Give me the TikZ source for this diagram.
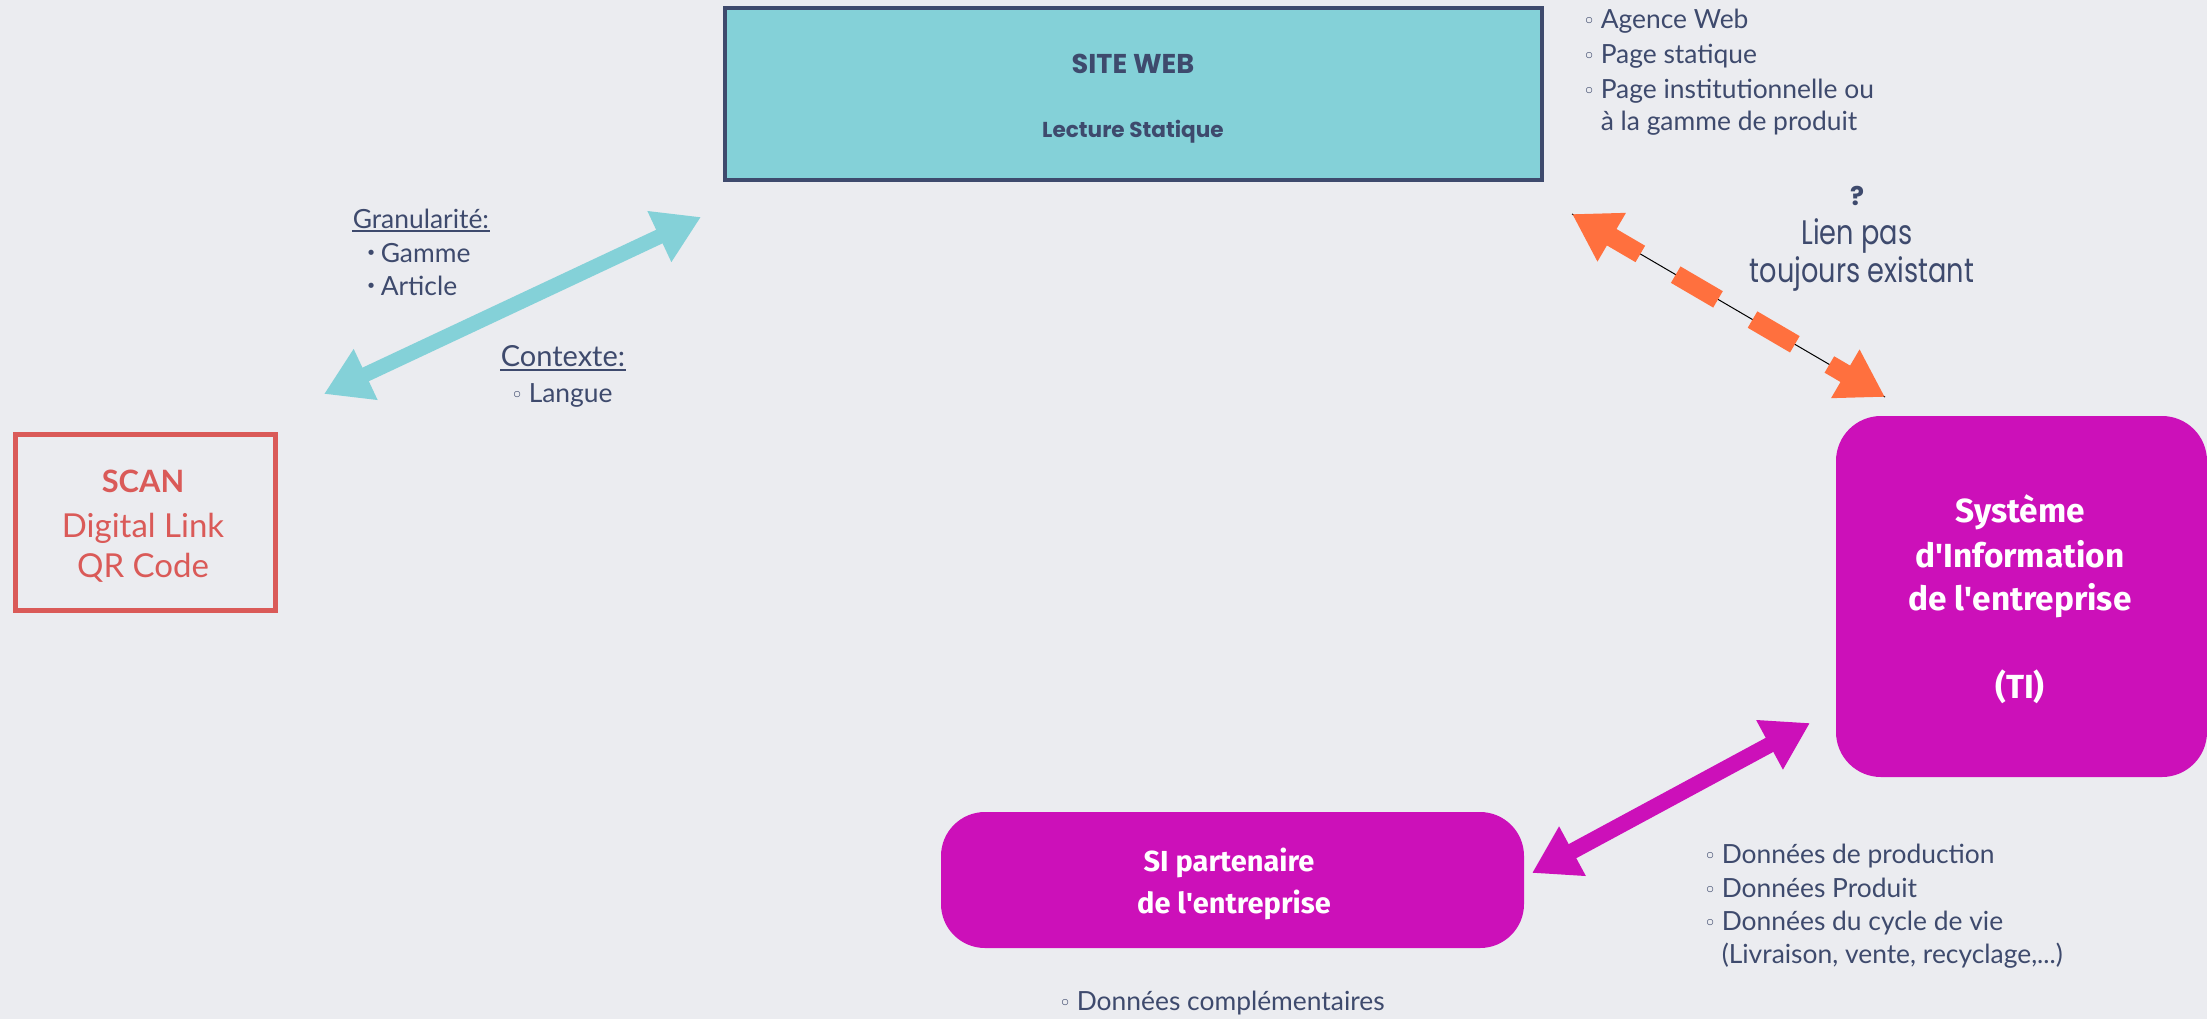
\documentclass[tikz,border=0pt]{standalone}
\usepackage{fontspec}
\setmainfont{Lato}
\newfontfamily\boxfont{Fira Sans}
\newfontfamily\futfont{Poppins}
\newfontfamily\futnarrow[FakeStretch=0.8]{Poppins}
\newfontfamily\symfont{DejaVu Sans}
\usetikzlibrary{arrows.meta}
\tikzset{every picture/.style={line width=0.75pt}}
\tikzset{
	txt/.style={inner sep=0pt, color={rgb, 255:red, 62; green, 74; blue, 109 }},
	listtxt/.style={txt, anchor=base west, font=\fontsize{13.2}{16}\selectfont},
	boxtxt/.style={inner sep=0pt, anchor=base, text=white, font=\boxfont\bfseries\fontsize{16.7}{20}\selectfont},
	scantxt/.style={inner sep=0pt, anchor=base, color={rgb, 255:red, 218; green, 90; blue, 88 }, font=\fontsize{16.5}{19}\selectfont},
	bigarrow/.style={line width=#1, {Triangle[length=23pt,width=26.5pt]}-{Triangle[length=23pt,width=26.5pt]}}}
\newcommand{\wbul}{\makebox[9pt][l]{\symfont\fontsize{10.7}{10}\selectfont ◦}}
\newcommand{\bbul}{\makebox[7.5pt][l]{\raisebox{1.2pt}{\symfont\fontsize{9}{9}\selectfont •}}}
\newcommand{\apos}{\textquotesingle}

\begin{document}
\begin{tikzpicture}[x=0.5pt,y=0.5pt,yscale=-1,xscale=1]
	\useasboundingbox (0,0) rectangle (2207,1019);
	\fill [color={rgb, 255:red, 235; green, 236; blue, 240 }] (0,0) rectangle (2207,1019);

	%Shape: Rectangle
	\node [draw={rgb, 255:red, 62; green, 74; blue, 109 }, fill={rgb, 255:red, 132; green, 209; blue, 216 }, line width=2pt, minimum width=408.5pt, minimum height=86pt] (web) at (1133.5,94) {};
	%Shape: Rectangle
	\node [draw={rgb, 255:red, 218; green, 90; blue, 88 }, line width=2.5pt, minimum width=130pt, minimum height=88pt] (scan) at (145.5,522.5) {};
	%Shape: Rounded Rect
	\node [fill={rgb, 255:red, 204; green, 16; blue, 185 }, rounded corners=22.5pt, minimum width=185.5pt, minimum height=180.5pt] (tiSys) at (2021.5,596.5) {};
	%Shape: Rounded Rect
	\node [fill={rgb, 255:red, 204; green, 16; blue, 185 }, rounded corners=22pt, minimum width=291.5pt, minimum height=68pt] (siPart) at (1232.5,880) {};

	%Straight Lines
	\coordinate (cyanA) at (324,394);
	\coordinate (cyanB) at (701,217);
	\draw [bigarrow=7.5pt, color={rgb, 255:red, 132; green, 209; blue, 216 }] (cyanA) -- (cyanB);
	%Straight Lines
	\coordinate (orA) at (1572,214);
	\coordinate (orB) at (1885,397);
	\draw [line width=0.5pt] (orA) -- (orB);
	\draw [bigarrow=9.5pt, color={rgb, 255:red, 255; green, 112; blue, 62 }, dash pattern=on 18pt off 20.5pt on 24.5pt off 20pt on 24.5pt off 20pt on 10pt off 10pt] (orA) -- (orB);
	%Straight Lines
	\coordinate (magA) at (1532,873);
	\coordinate (magB) at (1810,723);
	\draw [bigarrow=8pt, color={rgb, 255:red, 204; green, 16; blue, 185 }] (magA) -- (magB);

	% Text Node
	\node [txt, anchor=base, font=\futfont\bfseries\fontsize{13.6}{16}\selectfont] (webTitle) at (1133,73) {SITE WEB};
	% Text Node
	\node [txt, anchor=base, font=\futfont\bfseries\fontsize{10.8}{13}\selectfont] (webSub) at (1133,137) {Lecture Statique};
	% Text Node
	\node [listtxt] (webA) at (1582,28) {\wbul Agence Web};
	% Text Node
	\node [listtxt] (webB) at (1582,63) {\wbul Page statique};
	% Text Node
	\node [listtxt] (webC) at (1582,98) {\wbul Page institutionnelle ou};
	% Text Node
	\node [listtxt] (webD) at (1600,130) {à la gamme de produit};
	% Text Node
	\node [txt, anchor=base, font=\futfont\bfseries\fontsize{13}{16}\selectfont] (lienQ) at (1857,205) {?};
	% Text Node
	\node [txt, anchor=base, font=\futnarrow\fontsize{17}{20}\selectfont] (lienA) at (1857,244) {Lien pas};
	% Text Node
	\node [txt, anchor=base, font=\futnarrow\fontsize{17}{20}\selectfont] (lienB) at (1862,282) {toujours existant};
	% Text Node
	\node [listtxt] (granT) at (352,228) {Granularité:};
	\draw [line width=1pt, color={rgb, 255:red, 62; green, 74; blue, 109 }] ([yshift=1.6pt]granT.base west) -- ([yshift=1.6pt]granT.base east);
	% Text Node
	\node [listtxt] (granA) at (365,262) {\bbul Gamme};
	% Text Node
	\node [listtxt] (granB) at (365,295) {\bbul Article};
	% Text Node
	\node [listtxt, font=\fontsize{14.5}{17}\selectfont] (ctxT) at (500,366) {Contexte:};
	\draw [line width=1pt, color={rgb, 255:red, 62; green, 74; blue, 109 }] ([yshift=1.8pt]ctxT.base west) -- ([yshift=1.8pt]ctxT.base east);
	% Text Node
	\node [listtxt] (ctxA) at (510,402) {\wbul Langue};
	% Text Node
	\node [scantxt, font=\bfseries\fontsize{15.4}{18}\selectfont] (scanA) at (143,492) {SCAN};
	% Text Node
	\node [scantxt] (scanB) at (143,537) {Digital Link};
	% Text Node
	\node [scantxt] (scanC) at (143,577) {QR Code};
	% Text Node
	\node [boxtxt] (tiA) at (2020,522) {Système};
	% Text Node
	\node [boxtxt] (tiB) at (2020,567) {d\apos Information};
	% Text Node
	\node [boxtxt] (tiC) at (2020,610) {de l\apos entreprise};
	% Text Node
	\node [boxtxt] (tiD) at (2020,698) {(TI)};
	% Text Node
	\node [boxtxt, font=\boxfont\bfseries\fontsize{14.5}{18}\selectfont] (siA) at (1229,871) {SI partenaire};
	% Text Node
	\node [boxtxt, font=\boxfont\bfseries\fontsize{14.5}{18}\selectfont] (siB) at (1234,913) {de l\apos entreprise};
	% Text Node
	\node [listtxt] (prodA) at (1703,863) {\wbul Données de production};
	% Text Node
	\node [listtxt] (prodB) at (1703,897) {\wbul Données Produit};
	% Text Node
	\node [listtxt] (prodC) at (1703,930) {\wbul Données du cycle de vie};
	% Text Node
	\node [listtxt] (prodD) at (1721,963) {(Livraison, vente, recyclage,...)};
	% Text Node
	\node [listtxt] (compA) at (1058,1010) {\wbul Données complémentaires};

\end{tikzpicture}
\end{document}
